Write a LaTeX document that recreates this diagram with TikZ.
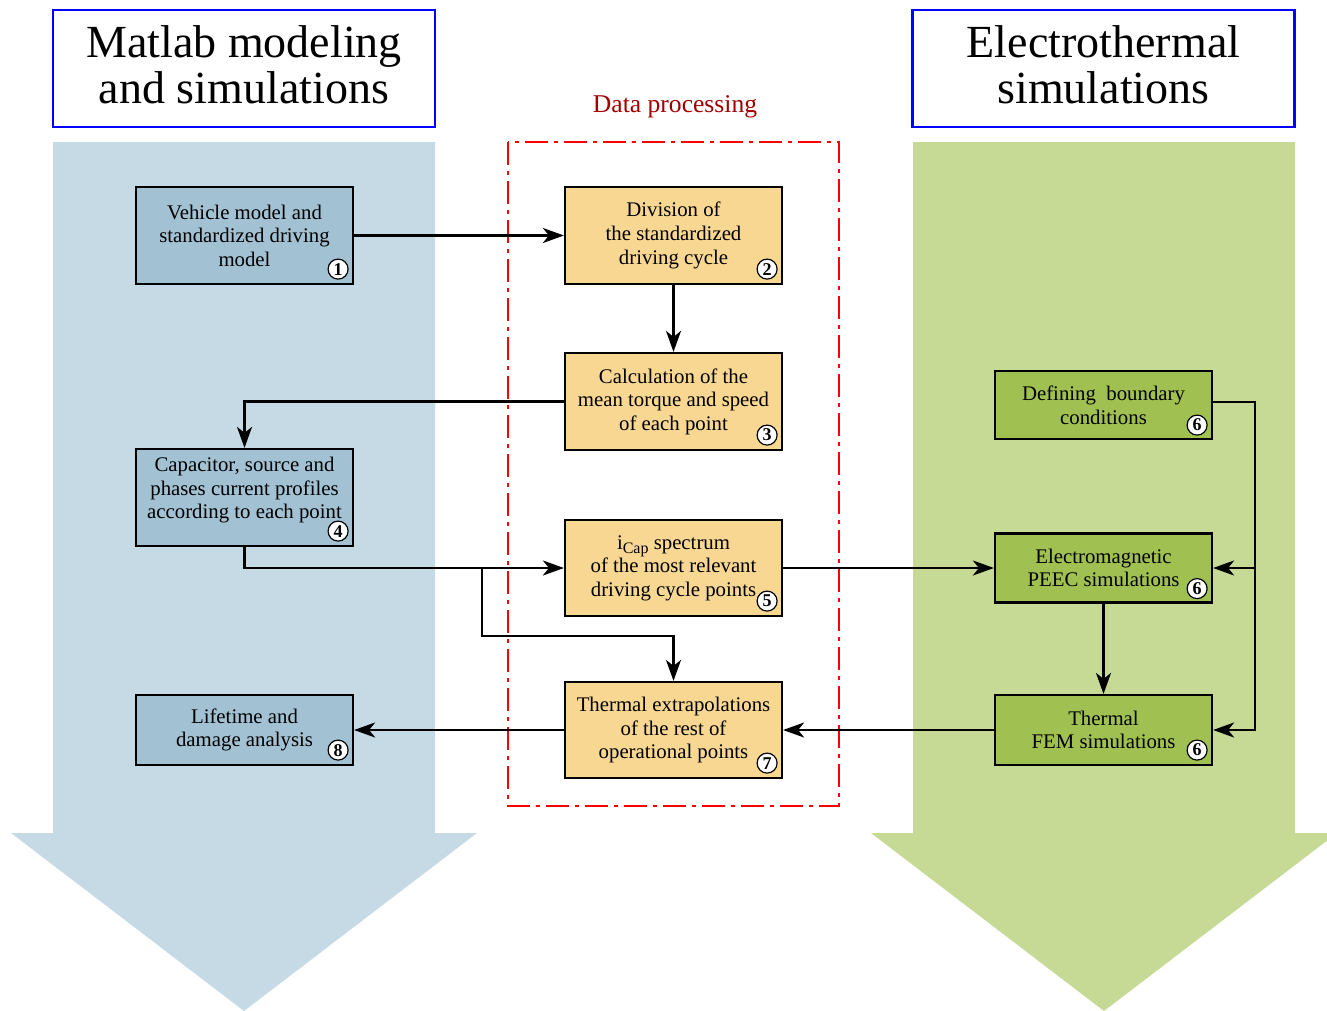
\documentclass[tikz,border=0pt]{standalone}
\usepackage{fontspec}
\setmainfont{Liberation Serif}
\usetikzlibrary{arrows.meta,calc}
\definecolor{bgblue}{RGB}{197,218,228}
\definecolor{bggreen}{RGB}{198,218,150}
\definecolor{boxblue}{RGB}{162,193,211}
\definecolor{boxorange}{RGB}{247,215,146}
\definecolor{boxgreen}{RGB}{160,193,82}
\definecolor{dpred}{RGB}{160,0,0}
\tikzset{
  procbox/.style={draw=black, line width=1.1pt, minimum width=108.5pt, inner sep=0pt, align=center, font=\fontsize{10.4}{11.8}\selectfont},
  bluebox/.style={procbox, fill=boxblue},
  orangebox/.style={procbox, fill=boxorange},
  greenbox/.style={procbox, fill=boxgreen},
  badge/.style={circle, draw=black, line width=0.6pt, fill=white, inner sep=0pt, minimum size=10pt, font=\fontsize{9}{9}\selectfont\bfseries},
  conn/.style={line width=1.1pt, -{Stealth[length=10.5pt,width=7.5pt,inset=3pt]}},
  titlebox/.style={draw=blue, line width=1.2pt, fill=white, minimum width=191pt, minimum height=58.5pt, inner sep=0pt, align=center, font=\fontsize{23}{23}\selectfont},
  titletext/.style={align=center, font=\fontsize{23}{23}\selectfont, inner sep=0pt},
}
\begin{document}
\begin{tikzpicture}[x=0.5pt,y=-0.5pt]
\useasboundingbox (0,0) rectangle (1327,1011);
\clip (0,0) rectangle (1327,1011);
% background arrows
\fill[bgblue] (53,142) -- (435,142) -- (435,833) -- (477,833) -- (244,1011) -- (11,833) -- (53,833) -- cycle;
\fill[bggreen] (913,142) -- (1295,142) -- (1295,833) -- (1337,833) -- (1104,1011) -- (871,833) -- (913,833) -- cycle;
% titles
\node[titlebox] (tl) at (244,68.5) {};
\node[titlebox] (tr) at (1103.5,68.5) {};
\node[titletext] (tlt) at (244,64.5) {Matlab modeling\\and simulations};
\node[titletext] (trt) at (1103.5,64.5) {Electrothermal\\simulations};
% data processing frame
\node[text=dpred, font=\fontsize{12.8}{14}\selectfont] (dp) at (675,107) {Data processing};
\draw[red, line width=1.25pt, dash pattern=on 11.5pt off 3pt on 2pt off 3pt] (508,142) rectangle (839,806);
% boxes
\node[bluebox, minimum height=48.5pt] (b1) at (244.5,235.5) {Vehicle model and\\standardized driving\\model};
\node[orangebox, minimum height=48.5pt] (b2) at (673.5,235.5) {Division of\\the standardized\\driving cycle};
\node[orangebox, minimum height=48.5pt] (b3) at (673.5,401.5) {Calculation of the\\mean torque and speed\\of each point};
\node[bluebox, minimum height=48.5pt] (b4) at (244.5,497.5) {\raisebox{3.5pt}[\height][\depth]{\begin{tabular}{@{}c@{}}Capacitor, source and\\phases current profiles\\according to each point\end{tabular}}};
\node[orangebox, minimum height=48pt] (b5) at (673.5,568) {i\raisebox{-0.45ex}{\fontsize{8}{8}\selectfont Cap} spectrum\\of the most relevant\\driving cycle points};
\node[orangebox, minimum height=48pt] (b7) at (673.5,730) {Thermal extrapolations\\of the rest of\\operational points};
\node[bluebox, minimum height=35pt] (b8) at (244.5,730) {Lifetime and\\damage analysis};
\node[greenbox, minimum height=34pt] (g1) at (1103.5,405) {Defining\ \ boundary\\conditions};
\node[greenbox, minimum height=34.5pt] (g2) at (1103.5,568) {Electromagnetic\\PEEC simulations};
\node[greenbox, minimum height=35pt] (g3) at (1103.5,730) {Thermal\\FEM simulations};
% badges
\node[badge] (n1) at ($(b1.south east)+(-16,-16)$) {1};
\node[badge] (n2) at ($(b2.south east)+(-16,-16)$) {2};
\node[badge] (n3) at ($(b3.south east)+(-16,-16)$) {3};
\node[badge] (n4) at ($(b4.south east)+(-16,-16)$) {4};
\node[badge] (n5) at ($(b5.south east)+(-16,-16)$) {5};
\node[badge] (n7) at ($(b7.south east)+(-16,-16)$) {7};
\node[badge] (n8) at ($(b8.south east)+(-16,-16)$) {8};
\node[badge] (n6a) at ($(g1.south east)+(-16,-15)$) {6};
\node[badge] (n6b) at ($(g2.south east)+(-16,-15)$) {6};
\node[badge] (n6c) at ($(g3.south east)+(-16,-16)$) {6};
% junction coordinates
\coordinate (j1) at (482,568);
\coordinate (j2) at (482,636);
\coordinate (r1) at (1255,402);
\coordinate (r2) at (1255,568);
\coordinate (r3) at (1255,730);
% connectors
\draw[conn] (b1.east) -- (b2.west);
\draw[conn] (b2.south) -- (b3.north);
\draw[conn] (b3.west) -| (b4.north);
\draw[conn] (b4.south) |- (b5.west);
\draw[conn] (j1) -- (j2) -| (b7.north);
\draw[conn] (b5.east) -- (g2.west);
\draw[conn] (g2.south) -- (g3.north);
\draw[conn] (g1.east |- r1) -- (r1) -- (r3) -- (g3.east);
\draw[conn] (r2) -- (g2.east);
\draw[conn] (g3.west) -- (b7.east);
\draw[conn] (b7.west) -- (b8.east);
\end{tikzpicture}
\end{document}
